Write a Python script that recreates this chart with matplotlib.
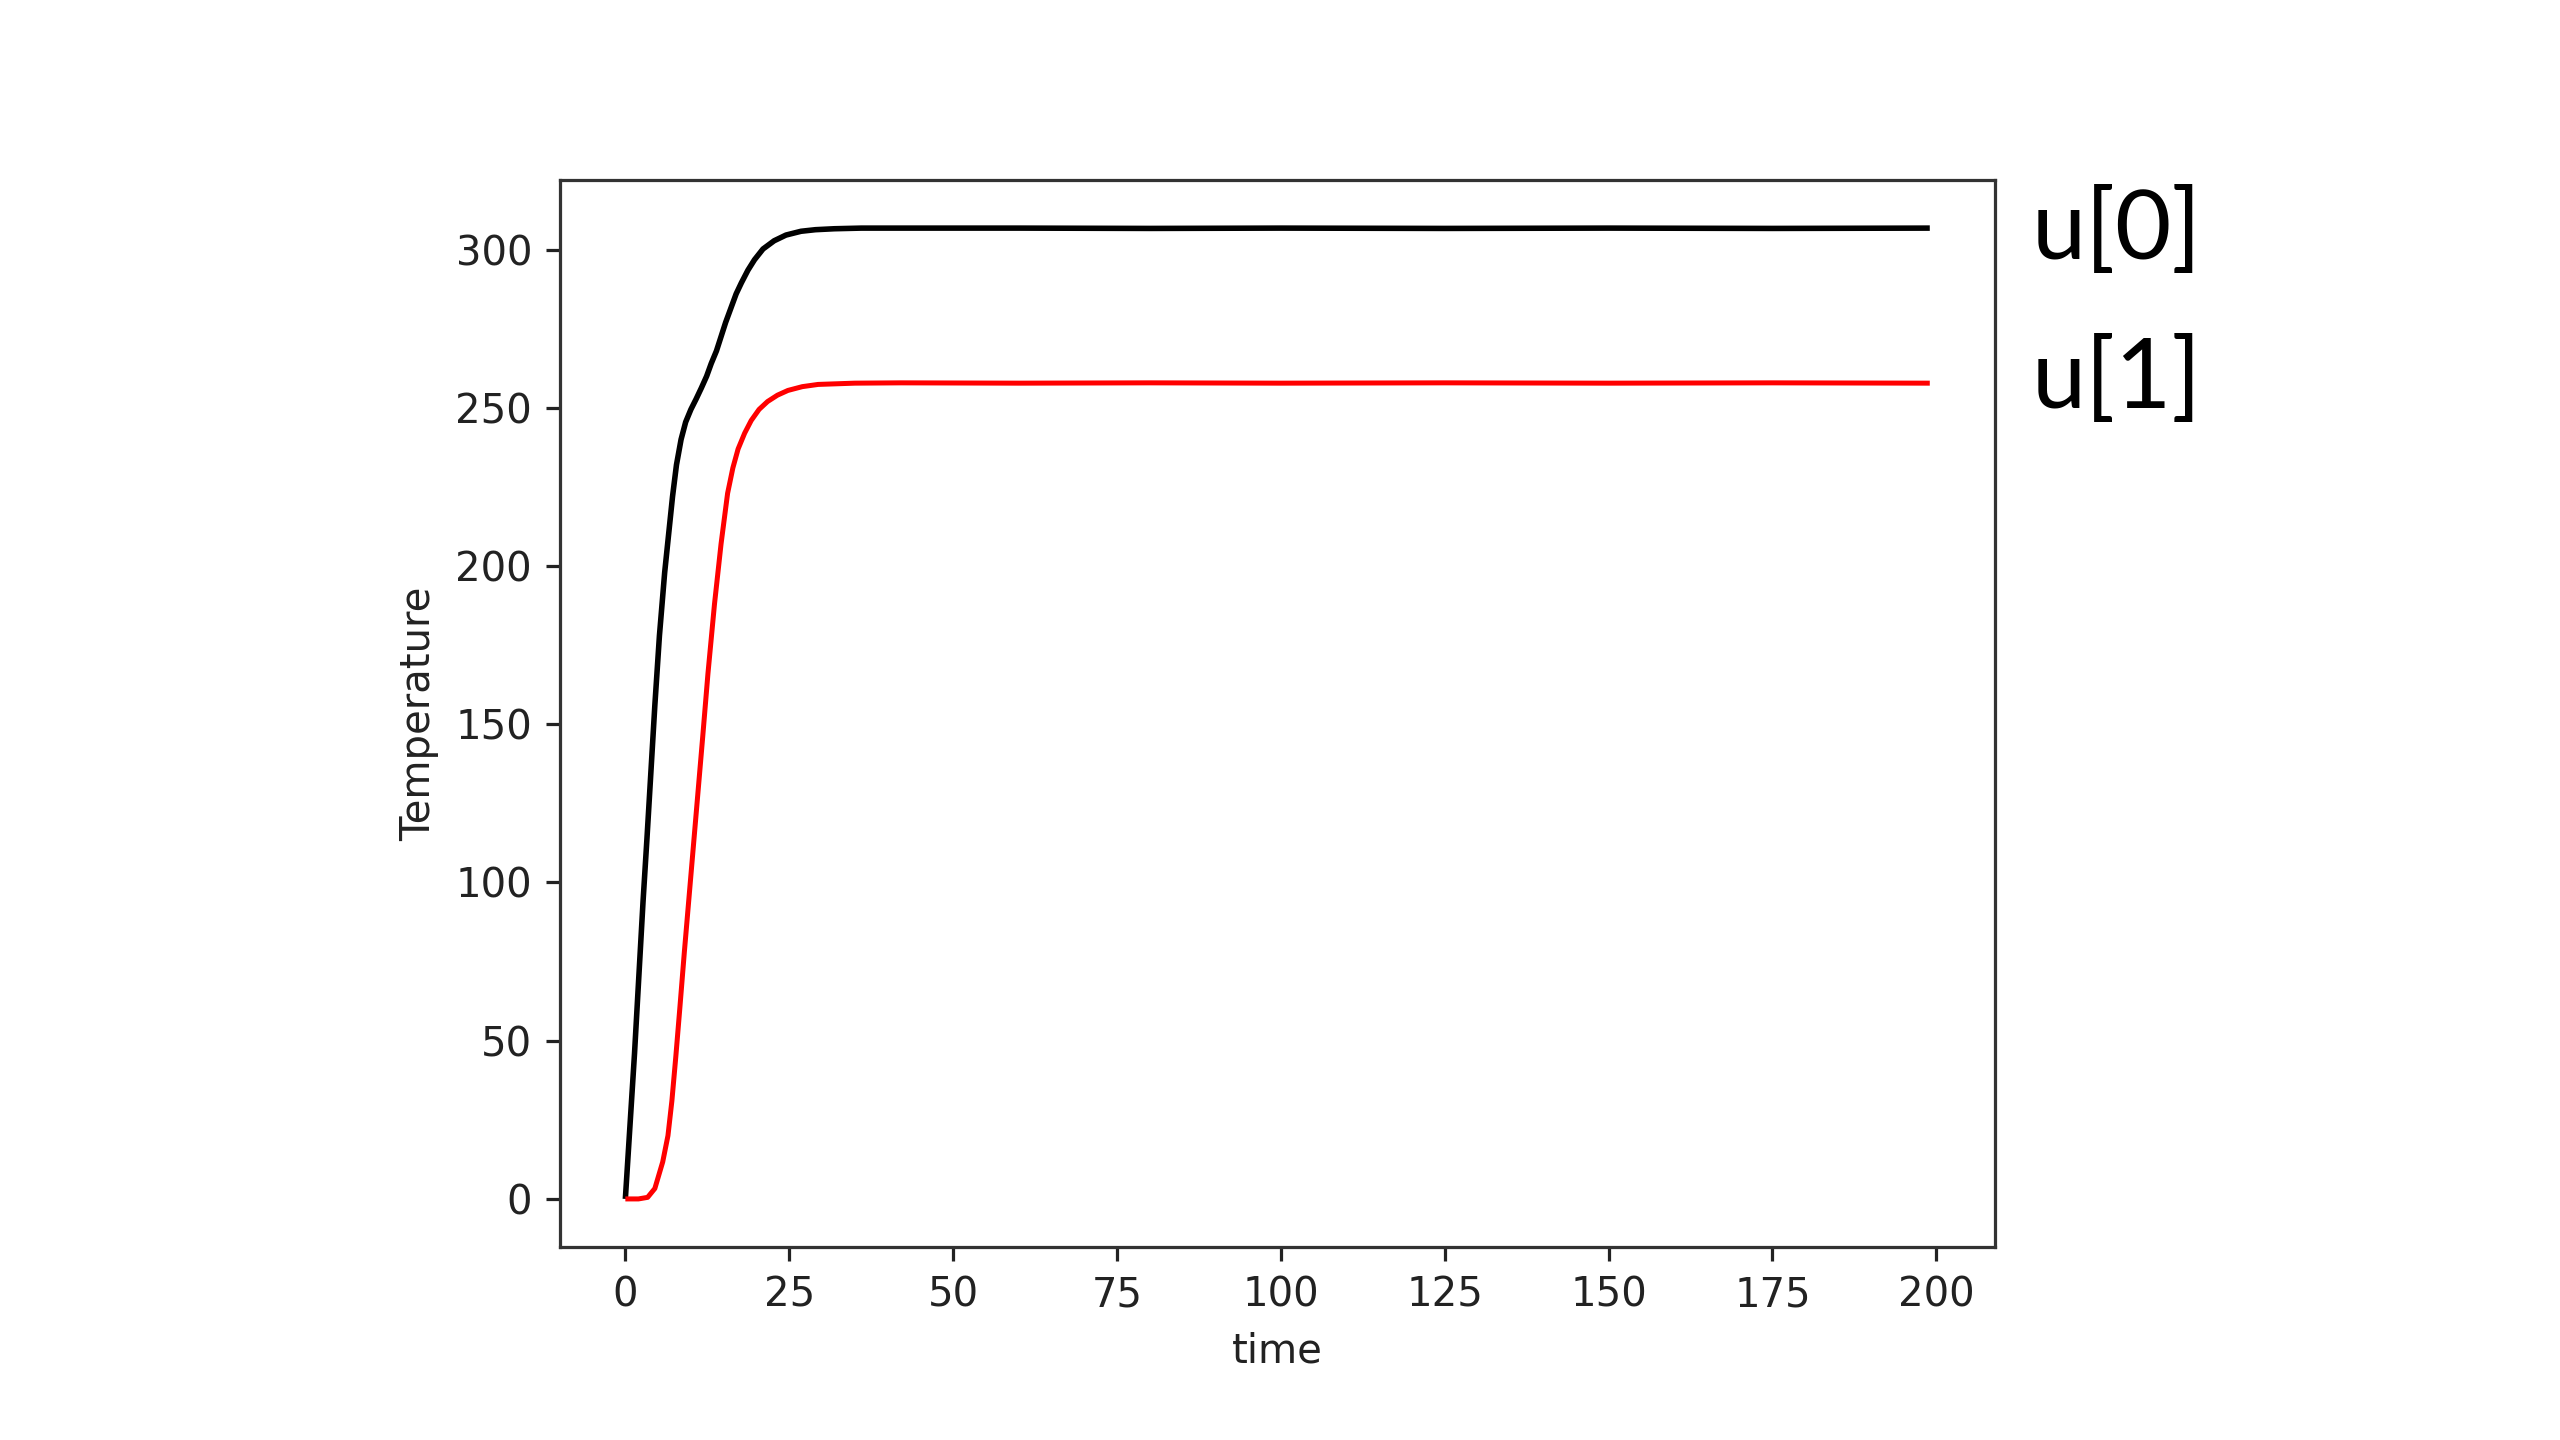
import matplotlib
matplotlib.use("Agg")
import matplotlib.pyplot as plt

# u[0] (black)
t_u0 = [0, 1.4, 2.7, 3.3, 3.9, 4.5, 5.2, 6.0, 6.6, 7.2, 7.8, 8.5, 9.2, 10.0, 10.8,
        11.6, 12.4, 13.1, 13.9, 14.6, 15.3, 16.1, 16.9, 17.7, 18.7, 19.7, 21.0,
        22.7, 24.5, 26.8, 29.0, 31.9, 36, 42, 60, 80, 100, 125, 150, 175, 199]
u0 = [0, 46, 94, 114, 135, 156, 178, 198, 210, 222, 232, 240, 245.5, 249.5, 252.8,
      256.3, 260, 264, 268, 272.5, 277, 281.5, 286, 289.5, 293.5, 296.8, 300.2,
      302.8, 304.6, 305.8, 306.3, 306.6, 306.8, 306.8, 306.8, 306.7, 306.8, 306.7,
      306.8, 306.7, 306.8]

# u[1] (red)
t_u1 = [0, 2.0, 3.4, 4.5, 5.7, 6.5, 7.1, 7.7, 8.3, 9.0, 9.7, 10.4, 11.1, 11.8,
        12.6, 13.6, 14.6, 15.6, 16.4, 17.2, 18.2, 19.2, 20.4, 21.7, 23.2, 24.8,
        27.0, 29.4, 35, 42, 60, 80, 100, 125, 150, 175, 199]
u1 = [0, 0, 0.5, 3.3, 11.7, 20, 31, 45, 60, 78, 95, 112, 129, 146,
      166, 188, 207, 223, 231, 237, 242, 246, 249.5, 252, 254, 255.5,
      256.7, 257.4, 257.8, 257.9, 257.8, 257.9, 257.8, 257.9, 257.8, 257.9, 257.8]

x_ticks = [0, 25, 50, 75, 100, 125, 150, 175, 200]
y_ticks = [0, 50, 100, 150, 200, 250, 300]
series_labels = ["u[0]", "u[1]"]

S = 2.89  # scale of the embedded matplotlib screenshot

fig = plt.figure(figsize=(25.6, 14.4), dpi=100)
fig.patch.set_facecolor("white")
ax = fig.add_axes([0.2188, 0.1337, 0.5605, 0.7416])

ax.plot(t_u0, u0, color="black", lw=4.0, solid_capstyle="butt", solid_joinstyle="round")
ax.plot(t_u1, u1, color="red", lw=3.6, solid_capstyle="butt", solid_joinstyle="round")

ax.set_xticks(x_ticks)
ax.set_yticks(y_ticks)
ax.tick_params(labelsize=10 * S, width=0.8 * S, length=3.5 * S, pad=3.5 * S,
               colors="#222222", labelcolor="#222222")
for sp in ax.spines.values():
    sp.set_linewidth(0.8 * S)
    sp.set_color("#333333")
ax.set_xlabel("time", fontsize=10 * S, labelpad=4 * S, color="#222222")
ax.set_ylabel("Temperature", fontsize=10 * S, labelpad=4 * S, color="#222222")

fig.text(0.7935, 0.839, series_labels[0], fontsize=70, family="Lato",
         va="center", ha="left", color="black")
fig.text(0.7935, 0.736, series_labels[1], fontsize=70, family="Lato",
         va="center", ha="left", color="black")

fig.savefig("out.png", dpi=100, facecolor="white")
